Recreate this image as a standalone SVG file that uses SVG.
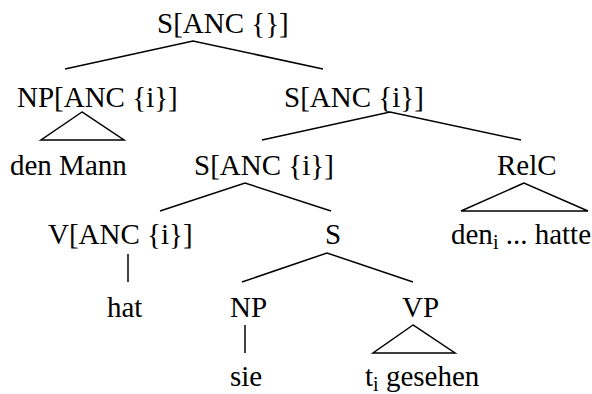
<svg xmlns="http://www.w3.org/2000/svg" width="592" height="394" viewBox="0 0 592 394">
  <style>
    .lbl { font-size: 29px; fill: #000; }
    .sub { font-size: 20px; }
    .edge { stroke: #000; stroke-width: 1.5; fill: none; stroke-linejoin: miter; }
  </style>
  <rect width="592" height="394" fill="#fff"/>

  <!-- tree branches -->
  <g id="connectors">
    <polyline class="edge" points="65,69 193,41 323,69"/>
    <polygon class="edge" points="82,112 41,140 124,140"/>
    <polyline class="edge" points="262,140 390,112 521,140"/>
    <polyline class="edge" points="160,211 245,183 331,211"/>
    <polygon class="edge" points="524,183 461,211 588,211"/>
    <line class="edge" x1="128" y1="254" x2="128" y2="282"/>
    <polyline class="edge" points="242,282 327,253 413,282"/>
    <line class="edge" x1="245" y1="325" x2="245" y2="353"/>
    <polygon class="edge" points="413,325 373,353 455,353"/>
  </g>

  <g font-family="'Liberation Serif', 'Times New Roman', Times, serif">
    <g id="n-root"><text class="lbl" x="157" y="33">S[ANC {}]</text></g>
    <g id="n-np-top"><text class="lbl" x="17" y="107">NP[ANC {i}]</text></g>
    <g id="n-den-mann"><text class="lbl" x="10" y="175">den Mann</text></g>
    <g id="n-s-upper"><text class="lbl" x="284" y="107">S[ANC {i}]</text></g>
    <g id="n-s-mid"><text class="lbl" x="194" y="175">S[ANC {i}]</text></g>
    <g id="n-relc"><text class="lbl" x="497" y="175">RelC</text></g>
    <g id="n-relc-yield"><text class="lbl" x="451" y="244">den<tspan class="sub" dy="5">i</tspan><tspan dy="-5"> ... hatte</tspan></text></g>
    <g id="n-v"><text class="lbl" x="48" y="244">V[ANC {i}]</text></g>
    <g id="n-hat"><text class="lbl" x="107" y="317">hat</text></g>
    <g id="n-s-low"><text class="lbl" x="325" y="244">S</text></g>
    <g id="n-np"><text class="lbl" x="230" y="317">NP</text></g>
    <g id="n-vp"><text class="lbl" x="402" y="317">VP</text></g>
    <g id="n-sie"><text class="lbl" x="230" y="386">sie</text></g>
    <g id="n-vp-yield"><text class="lbl" x="365" y="386">t<tspan class="sub" dy="5">i</tspan><tspan dy="-5"> gesehen</tspan></text></g>
  </g>
</svg>
